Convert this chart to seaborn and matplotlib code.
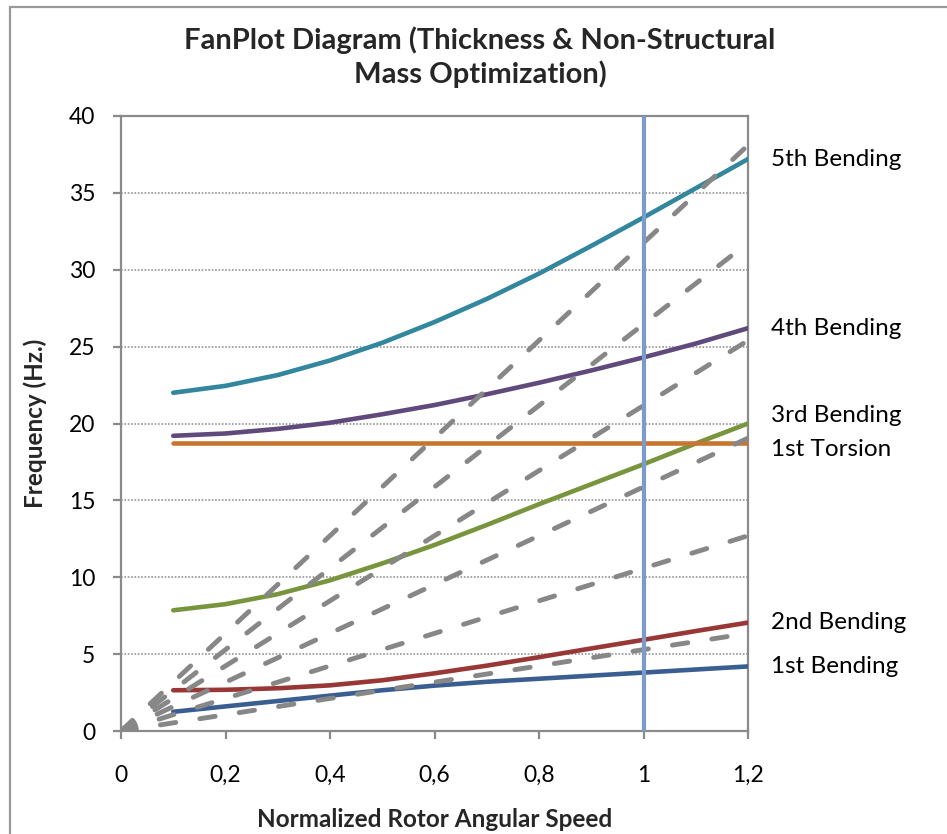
import matplotlib
matplotlib.use("Agg")
import matplotlib.pyplot as plt
import seaborn as sns
import pandas as pd
from matplotlib.patches import Rectangle

# Normalized rotor speed where the modal frequencies were computed
speed = [0.1, 0.2, 0.3, 0.4, 0.5, 0.6, 0.7, 0.8, 0.9, 1.0, 1.1, 1.2]

# Natural frequencies (Hz) of each mode
bend1 = [1.25, 1.6, 1.95, 2.3, 2.65, 2.95, 3.2, 3.4, 3.6, 3.8, 4.0, 4.2]
bend2 = [2.65, 2.68, 2.78, 2.97, 3.3, 3.75, 4.25, 4.8, 5.37, 5.93, 6.5, 7.05]
bend3 = [7.85, 8.25, 8.9, 9.8, 10.9, 12.1, 13.4, 14.75, 16.05, 17.35, 18.7, 20.0]
tors1 = [18.7, 18.7, 18.7, 18.7, 18.7, 18.7, 18.7, 18.7, 18.7, 18.7, 18.7, 18.7]
bend4 = [19.2, 19.35, 19.65, 20.05, 20.6, 21.2, 21.9, 22.65, 23.45, 24.3, 25.2, 26.2]
bend5 = [22.0, 22.45, 23.15, 24.1, 25.25, 26.6, 28.1, 29.75, 31.55, 33.4, 35.3, 37.2]

mode_names = ["1st Bending", "2nd Bending", "3rd Bending",
              "1st Torsion", "4th Bending", "5th Bending"]
mode_colors = ["#3A5E92", "#983735", "#78953D", "#C8752F", "#60497B", "#32869D"]

# Excitation orders (rays from the origin)
order_speed = [0.0, 1.2]
order_lines = [
    [0.0, 6.35],
    [0.0, 12.7],
    [0.0, 19.05],
    [0.0, 25.4],
    [0.0, 31.75],
    [0.0, 38.1],
]

# Nominal operating speed
nominal_speed = 1.0

x_ticks = [0, 0.2, 0.4, 0.6, 0.8, 1.0, 1.2]
x_tick_labels = ["0", "0,2", "0,4", "0,6", "0,8", "1", "1,2"]
y_ticks = [0, 5, 10, 15, 20, 25, 30, 35, 40]

sns.set_style("white")
plt.rcParams["font.family"] = ["Lato", "DejaVu Sans"]

W, H = 947, 834
fig = plt.figure(figsize=(W / 100, H / 100), dpi=100)
ax = fig.add_axes([121 / W, (H - 731) / H, (748 - 121) / W, (731 - 116) / H])

axis_grey = "#8a8a8a"

modes = [bend1, bend2, bend3, tors1, bend4, bend5]
for vals, name, col in zip(modes, mode_names, mode_colors):
    df = pd.DataFrame({"speed": speed, "freq": vals})
    sns.lineplot(data=df, x="speed", y="freq", ax=ax, color=col, lw=3.3,
                 solid_capstyle="round", solid_joinstyle="round", zorder=3)

for vals in order_lines:
    df = pd.DataFrame({"speed": order_speed, "freq": vals})
    sns.lineplot(data=df, x="speed", y="freq", ax=ax, color="#878787", lw=3.5,
                 linestyle=(0, (3.2, 5.0)), dash_capstyle="round", zorder=4)

ax.axvline(nominal_speed, ymin=0, ymax=1, color="#7B9BCC", lw=3.0, zorder=5)

ax.set_xlim(0, 1.2)
ax.set_ylim(0, 40)
ax.set_xticks(x_ticks)
ax.set_xticklabels(x_tick_labels)
ax.set_yticks(y_ticks)
ax.set_xlabel("Normalized Rotor Angular Speed", fontsize=17.5, fontweight="bold",
              labelpad=16)
ax.set_ylabel("Frequency (Hz.)", fontsize=17.5, fontweight="bold", labelpad=16)

ax.yaxis.grid(True, linestyle=(0, (1.1, 1.1)), color="#8c8c8c", lw=1.1)
ax.xaxis.grid(False)
ax.set_axisbelow(True)

for side in ["left", "bottom", "top", "right"]:
    ax.spines[side].set_visible(True)
    ax.spines[side].set_color(axis_grey)
    ax.spines[side].set_linewidth(1.6)

ax.tick_params(axis="y", which="both", left=True, right=False, direction="out",
               length=5.5, width=1.6, color=axis_grey, labelsize=16.5, pad=13,
               labelcolor="black")
ax.tick_params(axis="x", which="both", bottom=True, top=False, direction="out",
               length=5.5, width=1.6, color=axis_grey, labelsize=16.5, pad=19,
               labelcolor="black")

# Mode labels at the right end of each curve
label_shift = [0, 0, 6, -4, 0, 0]
for vals, name, dy in zip(modes, mode_names, label_shift):
    ax.annotate(name, xy=(1.2, vals[-1]), xycoords="data",
                xytext=(16.5, dy), textcoords="offset points",
                ha="left", va="center", fontsize=17.5, color="black",
                annotation_clip=False)

fig.text(480 / W, 1 - 57 / H,
         "FanPlot Diagram (Thickness & Non-Structural\nMass Optimization)",
         ha="center", va="center", fontsize=21, fontweight="bold",
         linespacing=1.3)

# Chart area border
fig.patches.append(Rectangle((10 / W, -0.1), 1.2, 1 - 7 / H + 0.1,
                             transform=fig.transFigure, fill=False,
                             edgecolor="#999999", lw=1.6, zorder=0))

fig.savefig("out.png", dpi=100, facecolor="white")
